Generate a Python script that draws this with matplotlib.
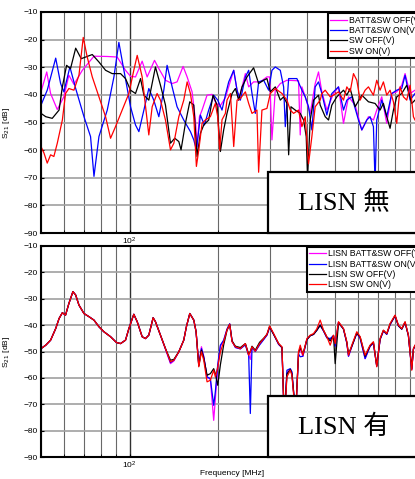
import matplotlib
matplotlib.use("Agg")
import matplotlib.pyplot as plt
from matplotlib.patches import Rectangle
from matplotlib.ticker import LogLocator, NullFormatter, MultipleLocator

plt.rcParams['font.family'] = ['Liberation Sans', 'DejaVu Sans']

# ---- upper panel (no LISN): (freq MHz, S21 dB) ----
batt_sw_off = [(50.0, -38.9), (52.3, -31.7), (53.9, -39.5), (56.8, -45.3), (59.8, -40.7), (62.2, -32.9),
               (64.7, -36.2), (69.1, -31.1), (75.7, -26.0), (84.0, -26.1), (90.8, -26.3), (96.9, -31.1),
               (100.8, -33.3), (104.8, -33.5), (110.4, -27.8), (114.8, -33.5), (121.6, -27.5), (125.8, -30.5),
               (132.5, -34.7), (139.6, -35.9), (145.1, -35.3), (152.1, -29.7), (157.0, -33.5), (163.2, -38.9),
               (167.5, -49.1), (169.7, -58.7), (172.9, -47.9), (176.5, -45.5), (183.5, -40.1), (190.8, -39.8),
               (195.8, -42.5), (202.6, -44.3), (211.8, -41.0), (226.1, -31.1), (235.1, -41.9), (247.7, -32.3),
               (254.2, -37.1), (264.2, -35.3), (278.4, -35.3), (293.3, -33.5), (299.5, -33.5), (305.0, -56.3),
               (313.1, -38.3), (325.6, -35.9), (343.0, -34.7), (375.6, -34.9), (380.6, -54.5), (385.6, -37.1),
               (395.8, -40.7), (411.6, -46.7), (427.9, -35.9), (439.2, -31.7), (450.8, -38.9), (468.8, -45.5),
               (493.9, -39.5), (513.6, -37.1), (534.1, -50.3), (555.4, -40.7), (585.1, -43.7), (616.4, -52.7),
               (649.3, -47.9), (675.1, -49.1), (692.9, -45.5), (720.6, -40.7), (749.4, -50.3), (779.2, -39.5),
               (810.4, -38.9), (842.7, -36.5), (865.0, -32.3), (899.6, -39.5), (935.0, -38.3)]

batt_sw_on = [(50.0, -43.7), (52.5, -38.3), (56.1, -26.7), (58.3, -35.9), (59.8, -38.9), (62.7, -29.9),
              (65.6, -37.7), (70.0, -47.9), (73.7, -55.1), (75.7, -69.5), (78.7, -55.1), (84.0, -45.5),
              (88.5, -33.5), (92.0, -21.0), (95.7, -31.1), (100.8, -44.3), (104.8, -50.9), (107.6, -53.3),
              (111.9, -45.5), (116.3, -37.7), (120.9, -41.9), (125.8, -47.9), (130.8, -38.3), (134.2, -29.3),
              (139.6, -37.1), (145.1, -44.3), (152.9, -49.1), (161.1, -53.3), (165.4, -56.3), (168.8, -59.9),
              (172.0, -52.7), (174.2, -47.3), (179.7, -50.9), (185.9, -45.5), (193.3, -40.1), (199.5, -41.9),
              (206.3, -45.5), (211.8, -40.1), (217.4, -35.3), (226.1, -31.1), (232.1, -38.3), (238.2, -41.9),
              (247.7, -33.5), (254.2, -31.1), (260.9, -39.5), (267.7, -46.7), (274.8, -35.3), (285.8, -34.7),
              (297.2, -38.3), (305.0, -31.1), (313.1, -29.9), (325.6, -31.1), (334.2, -37.1), (338.6, -51.5),
              (347.6, -34.1), (370.8, -34.1), (385.6, -38.3), (395.8, -40.7), (406.2, -44.3), (416.9, -52.7),
              (427.9, -37.1), (439.2, -35.3), (450.8, -39.5), (468.8, -47.3), (487.5, -39.5), (513.6, -37.1),
              (534.1, -45.5), (548.2, -41.9), (570.0, -40.7), (600.5, -49.1), (616.4, -52.7), (640.9, -49.1),
              (657.7, -47.9), (675.1, -51.5), (683.9, -72.0), (692.9, -49.1), (720.6, -41.9), (749.4, -47.9),
              (779.2, -39.5), (810.4, -38.3), (842.7, -37.7), (865.0, -32.9), (899.6, -41.9), (935.0, -39.5)]

sw_off = [(50.0, -46.7), (51.9, -47.9), (54.6, -48.5), (57.6, -45.5), (59.1, -37.1), (61.1, -29.3),
          (63.0, -30.5), (65.6, -23.1), (68.5, -26.9), (74.7, -25.4), (78.7, -28.1), (82.9, -31.1),
          (87.3, -32.3), (93.2, -32.3), (96.9, -34.1), (100.8, -38.3), (104.8, -39.5), (109.0, -34.1),
          (111.9, -40.1), (116.3, -41.9), (122.5, -29.9), (127.4, -36.5), (132.5, -43.7), (137.8, -57.5),
          (142.5, -55.7), (147.1, -56.9), (149.7, -59.9), (154.9, -50.3), (160.3, -42.5), (165.4, -43.7),
          (169.7, -62.3), (174.2, -53.9), (178.8, -50.9), (185.9, -49.1), (192.3, -40.1), (198.4, -43.7),
          (203.7, -60.5), (209.0, -52.7), (214.5, -46.7), (223.2, -39.5), (229.1, -37.7), (235.1, -41.9),
          (241.3, -37.1), (250.9, -33.5), (264.2, -30.2), (274.8, -35.9), (285.8, -34.7), (293.3, -34.1),
          (301.1, -38.9), (313.1, -37.1), (325.6, -41.9), (334.2, -40.7), (343.0, -43.1), (347.6, -61.7),
          (353.9, -44.3), (366.0, -45.5), (380.6, -46.7), (390.6, -49.1), (398.9, -55.1), (403.1, -70.0),
          (411.6, -49.1), (422.4, -41.9), (439.2, -40.1), (445.0, -43.7), (462.8, -47.9), (475.0, -49.1),
          (487.5, -43.7), (507.0, -40.7), (534.1, -38.3), (548.2, -40.1), (562.6, -37.7), (585.1, -44.3),
          (616.4, -40.1), (649.3, -42.5), (683.9, -43.1), (711.2, -45.5), (730.0, -43.1), (749.4, -47.9),
          (769.1, -52.1), (789.5, -45.5), (810.4, -40.7), (842.7, -39.5), (876.4, -36.5), (911.4, -43.1),
          (935.0, -41.9)]

sw_on = [(50.0, -58.7), (51.2, -61.1), (52.5, -64.7), (53.9, -61.7), (55.3, -62.3), (56.8, -57.5),
         (59.1, -49.1), (60.6, -39.5), (62.2, -37.7), (64.7, -38.3), (67.3, -32.9), (69.6, -19.2),
         (71.8, -26.3), (74.7, -33.5), (78.7, -40.7), (82.9, -47.9), (86.2, -55.7), (89.6, -51.5),
         (94.4, -45.5), (99.5, -39.5), (103.4, -31.1), (106.2, -25.7), (110.4, -33.5), (116.3, -54.5),
         (119.4, -44.3), (124.1, -39.5), (127.4, -41.9), (132.5, -49.1), (137.8, -59.9), (141.5, -57.5),
         (147.1, -47.9), (152.9, -41.9), (157.0, -35.3), (161.1, -39.5), (165.4, -47.9), (168.8, -65.9),
         (172.0, -59.9), (176.5, -50.3), (181.1, -49.1), (188.3, -47.9), (195.8, -43.1), (199.5, -48.0),
         (202.6, -60.0), (206.3, -49.0), (211.8, -46.7), (214.5, -41.9), (220.3, -39.5), (226.1, -58.7),
         (232.1, -41.9), (238.2, -41.3), (247.7, -38.9), (254.2, -43.1), (260.9, -46.7), (271.2, -45.5),
         (274.8, -68.0), (282.0, -45.5), (293.3, -44.9), (301.1, -39.5), (313.1, -37.7), (329.9, -39.5),
         (343.0, -41.9), (352.1, -45.5), (361.3, -46.7), (375.6, -45.5), (385.6, -51.5), (395.8, -47.9),
         (406.2, -65.0), (416.9, -55.1), (427.9, -44.3), (445.0, -41.9), (450.8, -39.5), (462.8, -38.3),
         (481.2, -40.7), (493.9, -40.1), (513.6, -38.9), (534.1, -41.9), (548.2, -37.1), (562.6, -38.9),
         (577.5, -32.3), (592.7, -34.7), (608.4, -41.9), (632.6, -38.3), (649.3, -37.1), (675.1, -40.1),
         (692.9, -34.7), (711.2, -38.3), (730.0, -35.3), (749.4, -40.1), (769.1, -38.3), (789.5, -42.5),
         (810.4, -50.3), (831.8, -37.1), (853.8, -40.7), (876.4, -41.9), (899.6, -36.5), (923.4, -47.9),
         (935.0, -49.1)]

# ---- lower panel (with LISN): shared frequency axis ----
lisn_freq = [50.0, 51.9, 53.9, 56.1, 57.6, 59.1, 60.6, 62.2, 64.2, 65.6,
             67.3, 70.0, 72.8, 75.7, 78.7, 81.8, 86.2, 90.3, 93.2, 96.9,
             99.5, 103.4, 106.2, 110.4, 113.3, 116.3, 120.3, 122.5, 127.4, 132.5,
             137.8, 141.5, 147.1, 152.9, 156.1, 160.3, 165.4, 168.4, 172.0, 175.6,
             178.8, 183.5, 188.3, 193.3, 195.8, 199.5, 203.7, 209.0, 214.5, 219.1,
             223.2, 229.1, 238.2, 247.7, 254.2, 257.5, 260.9, 267.7, 276.9, 285.8,
             293.3, 299.5, 309.1, 321.4, 329.9, 334.2, 338.6, 343.0, 352.1, 356.6,
             363.2, 368.9, 375.6, 380.6, 388.6, 401.0, 411.6, 422.4, 433.0, 445.0,
             456.7, 468.8, 481.2, 493.9, 500.4, 513.6, 534.1, 548.2, 555.4, 570.0,
             592.7, 608.4, 632.6, 657.7, 675.1, 692.9, 711.2, 730.0, 749.4, 769.1,
             799.8, 821.0, 842.7, 865.0, 887.9, 911.4, 923.4, 935.0]

lisn_sw_on = [-48.9, -47.6, -45.7, -41.3, -37.5, -35.3, -36.2, -31.8, -27.3, -28.6,
              -32.4, -35.6, -36.8, -38.1, -40.6, -42.5, -44.4, -46.6, -47.0, -45.7,
              -41.3, -35.9, -38.7, -44.4, -45.1, -43.8, -37.2, -38.7, -43.8, -48.9,
              -53.9, -53.3, -50.1, -45.7, -40.6, -35.6, -38.1, -42.5, -55.8, -50.1,
              -53.3, -61.5, -60.9, -57.1, -59.6, -56.0, -50.2, -46.3, -41.9, -39.7,
              -46.3, -48.2, -48.9, -47.0, -51.4, -50.0, -48.2, -49.9, -47.0, -45.1,
              -43.5, -40.3, -43.2, -47.0, -48.2, -69.0, -70.0, -59.6, -57.1, -59.0,
              -69.0, -70.0, -50.1, -47.6, -51.4, -45.1, -43.8, -43.2, -41.5, -38.1,
              -41.9, -44.4, -47.6, -43.8, -47.0, -38.7, -41.3, -46.3, -51.4, -47.6,
              -42.5, -44.4, -51.4, -47.6, -46.3, -55.8, -45.1, -41.9, -43.2, -39.4,
              -36.2, -40.0, -41.3, -38.7, -43.8, -57.1, -48.9, -47.6]

lisn_sw_off = [-48.9, -47.6, -45.7, -41.3, -37.5, -35.3, -36.2, -31.8, -27.3, -28.6,
               -32.4, -35.6, -36.8, -38.1, -40.6, -42.5, -44.4, -46.6, -47.0, -45.7,
               -41.3, -35.9, -38.7, -44.4, -45.1, -43.8, -37.2, -38.7, -43.8, -48.9,
               -53.3, -53.0, -50.1, -45.7, -40.6, -35.6, -38.1, -42.5, -55.5, -49.5,
               -52.5, -59.0, -58.4, -56.5, -58.4, -62.8, -55.0, -47.5, -42.0, -39.7,
               -46.0, -48.0, -48.5, -47.0, -51.0, -50.0, -48.0, -49.5, -46.5, -45.0,
               -43.5, -40.5, -43.5, -47.0, -48.5, -68.0, -69.0, -58.5, -56.8, -58.5,
               -68.0, -69.0, -50.5, -48.5, -51.0, -45.5, -44.0, -43.5, -42.0, -40.0,
               -42.0, -44.5, -46.0, -44.0, -54.6, -39.0, -41.5, -46.5, -51.0, -48.0,
               -43.0, -44.5, -51.8, -47.8, -46.5, -55.5, -45.3, -42.0, -43.3, -39.6,
               -36.4, -40.2, -41.5, -38.9, -44.0, -56.5, -49.0, -47.8]

lisn_batt_sw_on = [-48.9, -47.6, -45.7, -41.3, -37.5, -35.3, -36.2, -31.8, -27.3, -28.6,
                   -32.4, -35.6, -36.8, -38.1, -40.6, -42.5, -44.4, -46.6, -47.0, -45.7,
                   -41.3, -35.9, -38.7, -44.4, -45.1, -43.8, -37.2, -38.7, -43.8, -48.9,
                   -54.2, -53.3, -50.1, -45.7, -40.6, -35.6, -38.1, -42.5, -55.2, -48.9,
                   -52.0, -59.6, -60.3, -70.4, -65.3, -55.0, -47.6, -45.7, -41.5, -39.5,
                   -46.0, -48.5, -49.0, -47.5, -51.5, -73.5, -48.5, -50.0, -47.5, -45.5,
                   -43.8, -40.8, -43.5, -47.3, -48.5, -68.0, -69.0, -57.1, -56.5, -57.7,
                   -68.0, -69.0, -51.0, -52.0, -51.8, -45.5, -44.0, -43.5, -42.0, -40.0,
                   -42.2, -44.8, -45.1, -44.0, -48.0, -39.0, -41.5, -46.8, -51.8, -48.0,
                   -43.0, -45.0, -52.7, -48.0, -46.8, -55.5, -45.5, -42.2, -43.5, -39.8,
                   -36.5, -40.3, -41.5, -39.0, -44.0, -56.8, -49.2, -47.8]

lisn_batt_sw_off = [-48.9, -47.6, -45.7, -41.3, -37.5, -35.3, -36.2, -31.8, -27.3, -28.6,
                    -32.4, -35.6, -36.8, -38.1, -40.6, -42.5, -44.4, -46.6, -47.0, -45.7,
                    -41.3, -35.9, -38.7, -44.4, -45.1, -43.8, -37.2, -38.7, -43.8, -49.2,
                    -54.6, -53.6, -50.1, -45.7, -40.6, -35.6, -38.1, -42.5, -55.0, -48.2,
                    -51.8, -59.8, -60.5, -76.1, -68.0, -56.0, -48.0, -45.9, -41.7, -39.6,
                    -46.2, -48.4, -49.0, -47.2, -51.4, -53.0, -48.4, -50.0, -47.3, -45.4,
                    -43.8, -40.7, -43.5, -47.3, -48.5, -68.5, -69.5, -58.0, -56.8, -58.0,
                    -68.5, -69.5, -50.5, -49.1, -51.8, -45.4, -44.0, -43.5, -42.0, -40.0,
                    -42.2, -44.8, -45.5, -44.0, -48.0, -39.0, -41.5, -46.8, -51.8, -48.2,
                    -43.0, -45.0, -52.7, -48.0, -47.0, -55.5, -45.5, -42.2, -43.5, -39.8,
                    -36.5, -40.3, -41.5, -39.0, -44.0, -56.8, -49.2, -47.8]

top_labels = ['BATT&SW OFF(V)', 'BATT&SW ON(V)', 'SW OFF(V)', 'SW ON(V)']
bottom_labels = ['LISN BATT&SW OFF(V)', 'LISN BATT&SW ON(V)', 'LISN SW OFF(V)', 'LISN SW ON(V)']
colors = ['#ff00ff', '#0000ff', '#000000', '#ff0000']
panel_titles = ['LISN 無', 'LISN 有']

W, H = 415, 479
fig = plt.figure(figsize=(W / 100, H / 100), dpi=100)

# axes run a little past the right edge, as in the cropped original
x0 = 41 / W
axw = (423.6 - 41) / W
ax_top = fig.add_axes([x0, 1 - 233 / H, axw, (233 - 12) / H])
ax_bot = fig.add_axes([x0, 1 - 457 / H, axw, (457 - 246) / H])


def style_axes(ax):
    ax.set_xscale('log')
    ax.set_xlim(50, 1000)
    ax.set_ylim(-90, -10)
    ax.yaxis.set_major_locator(MultipleLocator(10))
    ax.xaxis.set_minor_locator(LogLocator(base=10, subs=range(2, 10)))
    ax.xaxis.set_minor_formatter(NullFormatter())
    ax.yaxis.grid(True, color='#a0a0a0', lw=1.2)
    ax.xaxis.grid(True, which='major', color='#303030', lw=1.0)
    ax.xaxis.grid(True, which='minor', color='#686868', lw=0.8)
    ax.set_axisbelow(True)
    ax.tick_params(which='both', direction='in', labelsize=6, pad=2, length=2)
    for sp in ax.spines.values():
        sp.set_linewidth(1.5)
    ax.set_ylabel('S$_{21}$ [dB]', fontsize=6)
    ax.yaxis.set_label_coords(-0.075, 0.5)


def add_badge(ax, text, height):
    ax.add_patch(Rectangle((0.593, 0.0), 0.395, height, transform=ax.transAxes,
                           facecolor='white', edgecolor='black', lw=1.6,
                           clip_on=False, zorder=6))
    ax.text(0.593 + 0.395 / 2, height / 2, text, transform=ax.transAxes,
            ha='center', va='center', fontsize=19, zorder=7,
            family=['Liberation Serif', 'Noto Sans CJK JP'])


style_axes(ax_top)
for data, lab, c in zip([batt_sw_off, batt_sw_on, sw_off, sw_on], top_labels, colors):
    f, v = zip(*data)
    ax_top.plot(f, v, color=c, lw=0.9, label=lab)
leg = ax_top.legend(loc='upper left', bbox_to_anchor=(0.749, 0.995), fontsize=6.3,
                    frameon=True, fancybox=False, framealpha=1, edgecolor='black',
                    borderpad=0.3, labelspacing=0.15, handlelength=1.9, handletextpad=0.3,
                    borderaxespad=0)
leg.get_frame().set_linewidth(1.5)
leg.set_zorder(8)
add_badge(ax_top, panel_titles[0], (233 - 172) / 221)

style_axes(ax_bot)
for vals, lab, c in zip([lisn_batt_sw_off, lisn_batt_sw_on, lisn_sw_off, lisn_sw_on],
                        bottom_labels, colors):
    ax_bot.plot(lisn_freq, vals, color=c, lw=0.9, label=lab)
leg2 = ax_bot.legend(loc='upper left', bbox_to_anchor=(0.694, 0.997), fontsize=6.3,
                     frameon=True, fancybox=False, framealpha=1, edgecolor='black',
                     borderpad=0.3, labelspacing=0.15, handlelength=1.9, handletextpad=0.3,
                     borderaxespad=0)
leg2.get_frame().set_linewidth(1.5)
leg2.set_zorder(8)
add_badge(ax_bot, panel_titles[1], (457 - 396) / 211)
ax_bot.set_xlabel('Frequency [MHz]', fontsize=6)
ax_bot.xaxis.set_label_coords(0.5, -0.062)

fig.savefig('out.png', dpi=100)
